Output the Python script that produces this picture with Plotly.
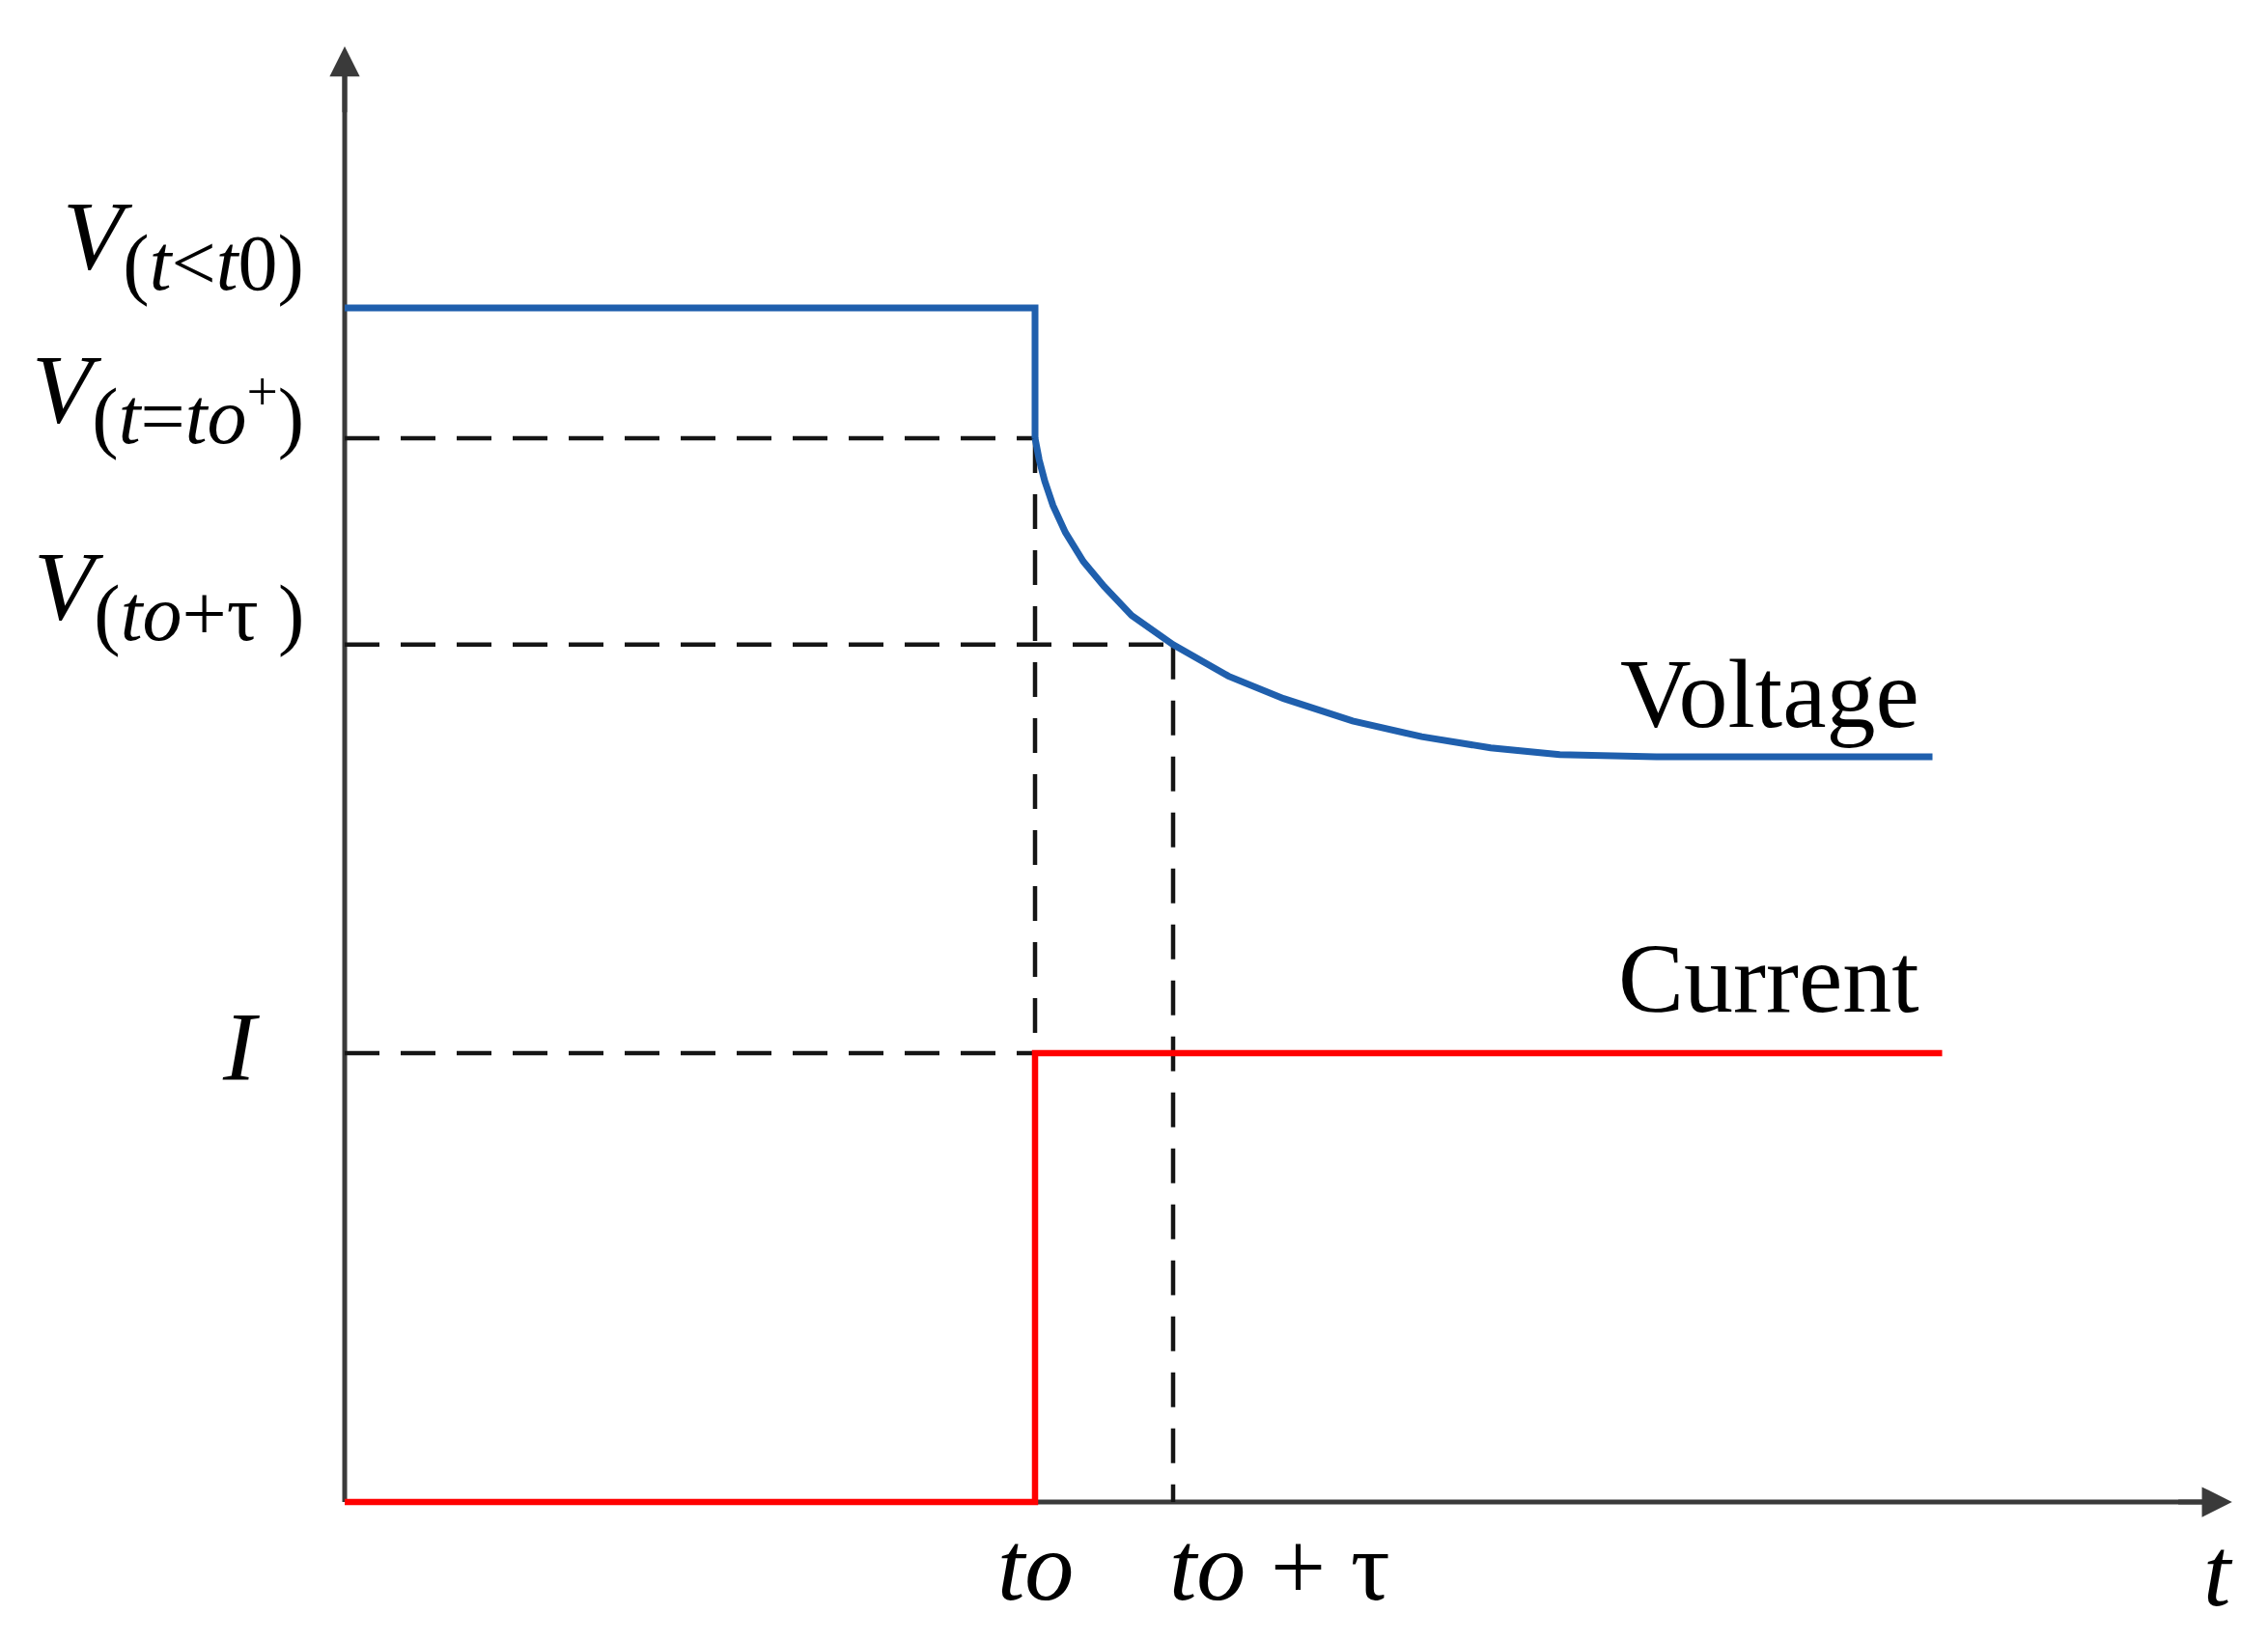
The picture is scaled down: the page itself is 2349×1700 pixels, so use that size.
import plotly.graph_objects as go

# time axis (t0 = 5, tau = 1) and levels
t0 = 5.0
tau = 1.0
t_end_i = 11.57
t_arrow = 13.67
y_arrow = 3.243

v_before = 2.66      # V(t<t0)
v_plus = 2.37        # V(t=t0+)
v_tau = 1.91         # V(t0+tau)
v_inf = 1.66
i_level = 1.0

# voltage relaxation after the step
curve_t = [5.0, 5.01, 5.03, 5.07, 5.13, 5.22, 5.35, 5.5, 5.7, 6.0,
           6.4, 6.8, 7.3, 7.8, 8.3, 8.8, 9.5, 11.5]
curve_v = [2.37, 2.352, 2.322, 2.275, 2.22, 2.16, 2.095, 2.04, 1.975, 1.91,
           1.84, 1.79, 1.74, 1.705, 1.68, 1.665, 1.66, 1.66]

step_t = [0, t0, t0]
step_v = [v_before, v_before, v_plus]

curr_t = [0, t0, t0, t_end_i]
curr_i = [0, 0, i_level, i_level]

PAGE = 8                      # body margin of the html page
W, H = 2349 - 2 * PAGE, 1700 - 2 * PAGE
x0_px, y0_px = 357 - PAGE, 1556 - PAGE
px_per_t = 143.0
px_per_v = 465.0

BLUE = "#1f5fad"
RED = "#ff0000"
AXIS = "#3a3a3a"
DASH = "#151515"
SERIF = "Liberation Serif"

fig = go.Figure()

dash_style = dict(color=DASH, width=4.5, dash="36px,22px")
guides = [
    ([0, t0], [v_plus, v_plus]),
    ([0, t0 + tau], [v_tau, v_tau]),
    ([0, t0], [i_level, i_level]),
    ([t0, t0], [v_plus, i_level]),
    ([t0 + tau, t0 + tau], [v_tau, 0]),
]
for gx, gy in guides:
    fig.add_trace(go.Scatter(x=gx, y=gy, mode="lines", line=dash_style,
                             hoverinfo="skip"))

fig.add_trace(go.Scatter(x=step_t, y=step_v, mode="lines", name="Voltage",
                         line=dict(color=BLUE, width=7)))
fig.add_trace(go.Scatter(x=curve_t, y=curve_v, mode="lines", name="Voltage",
                         line=dict(color=BLUE, width=7)))
fig.add_trace(go.Scatter(x=curr_t, y=curr_i, mode="lines", name="Current",
                         line=dict(color=RED, width=6.5)))

# axes
fig.add_shape(type="line", x0=0, y0=0, x1=t_arrow - 0.1, y1=0, layer="below",
              line=dict(color=AXIS, width=5))
fig.add_shape(type="line", x0=0, y0=0, x1=0, y1=y_arrow - 0.03, layer="below",
              line=dict(color=AXIS, width=5))
for tx, ty, axx, ayy in [(t_arrow, 0, t_arrow - 0.4, 0), (0, y_arrow, 0, y_arrow - 0.15)]:
    fig.add_annotation(x=tx, y=ty, ax=axx, ay=ayy, xref="x", yref="y",
                       axref="x", ayref="y", text="", showarrow=True,
                       arrowhead=2, arrowwidth=5, arrowsize=1.25,
                       arrowcolor=AXIS, standoff=0)

math = dict(family=SERIF, size=102, color="black")
SUB = "<sub><span style='font-size:82px'>%s</span></sub>"

# left-hand level labels
left_labels = [
    ("<i>V</i>" + SUB % "(<i>t</i>&lt;<i>t</i>0)", v_before, 66),
    ("<i>V</i>" + SUB % "(<i>t</i>=<i>to</i><sup>+</sup>)", v_plus, 42),
    ("<i>V</i>" + SUB % "(<i>to</i>+τ )", v_tau, 52),
]
for txt, lvl, shift in left_labels:
    fig.add_annotation(x=0, y=lvl, text=txt, showarrow=False, xanchor="right",
                       yanchor="middle", xshift=-40, yshift=shift, font=math)
fig.add_annotation(x=0, y=i_level, text="<i>I</i>", showarrow=False,
                   xanchor="right", yanchor="middle", xshift=-86, yshift=7, font=math)

# time labels
fig.add_annotation(x=t0, y=0, text="<i>to</i>", showarrow=False,
                   xanchor="center", yanchor="middle", yshift=-66, font=math)
fig.add_annotation(x=t0 + tau, y=0, text="<i>to</i> + τ", showarrow=False,
                   xanchor="left", yanchor="middle", xshift=-6, yshift=-66, font=math)
fig.add_annotation(x=t_arrow - 0.1, y=0, text="<i>t</i>", showarrow=False,
                   xanchor="center", yanchor="middle", yshift=-72, font=math)

# series names
word = dict(family=SERIF, size=102, color="black")
fig.add_annotation(x=11.42, y=v_inf, text="Voltage", showarrow=False,
                   xanchor="right", yanchor="middle", yshift=66, font=word)
fig.add_annotation(x=11.42, y=i_level, text="Current", showarrow=False,
                   xanchor="right", yanchor="middle", yshift=78, font=word)

fig.update_layout(
    width=W, height=H,
    margin=dict(l=0, r=0, t=0, b=0),
    paper_bgcolor="white", plot_bgcolor="white",
    showlegend=False,
    xaxis=dict(visible=False, range=[-x0_px / px_per_t, (W - x0_px) / px_per_t]),
    yaxis=dict(visible=False, range=[-(H - y0_px) / px_per_v, y0_px / px_per_v]),
)

fig.write_html("out.html")
